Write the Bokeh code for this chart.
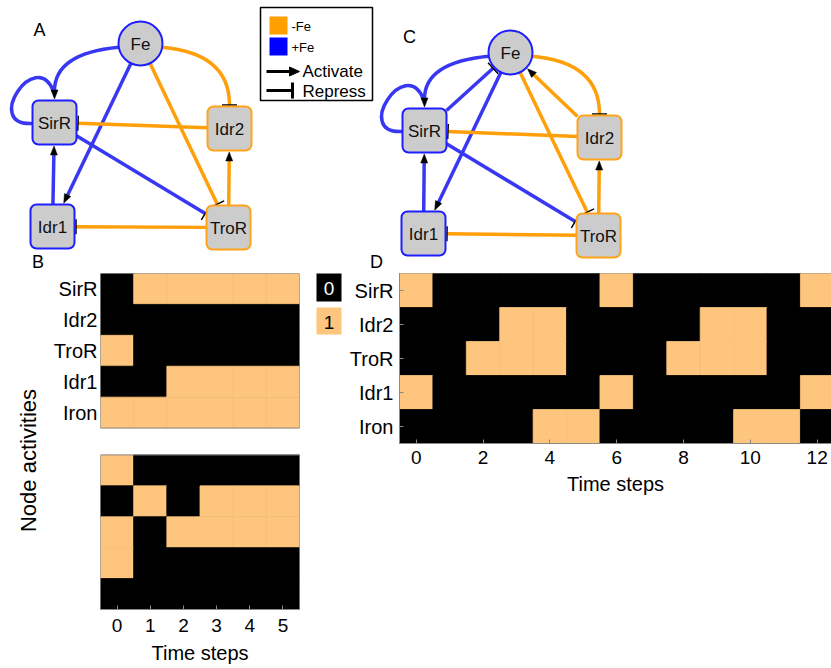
import math
from bokeh.plotting import figure
from bokeh.models import Range1d, FixedTicker, ColumnDataSource
from bokeh.layouts import row, column
from bokeh.transform import linear_cmap
from bokeh.core.properties import value
from bokeh.embed import file_html
from bokeh.resources import INLINE

FONT = "Liberation Sans"

# ---------------- data ----------------
node_names = ["SirR", "Idr2", "TroR", "Idr1", "Iron"]
b_steps = [0, 1, 2, 3, 4, 5]
b_top_rows = [
    [0, 1, 1, 1, 1, 1],
    [0, 0, 0, 0, 0, 0],
    [1, 0, 0, 0, 0, 0],
    [0, 0, 1, 1, 1, 1],
    [1, 1, 1, 1, 1, 1],
]
b_bottom_rows = [
    [1, 0, 0, 0, 0, 0],
    [0, 1, 0, 1, 1, 1],
    [1, 0, 1, 1, 1, 1],
    [1, 0, 0, 0, 0, 0],
    [0, 0, 0, 0, 0, 0],
]
d_steps = list(range(13))
d_rows = [
    [1, 0, 0, 0, 0, 0, 1, 0, 0, 0, 0, 0, 1],
    [0, 0, 0, 1, 1, 0, 0, 0, 0, 1, 1, 0, 0],
    [0, 0, 1, 1, 1, 0, 0, 0, 1, 1, 1, 0, 0],
    [1, 0, 0, 0, 0, 0, 1, 0, 0, 0, 0, 0, 1],
    [0, 0, 0, 0, 1, 1, 0, 0, 0, 0, 1, 1, 0],
]
b_tick_values = [0, 1, 2, 3, 4, 5]
d_tick_values = [0, 2, 4, 6, 8, 10, 12]
state_labels = ["0", "1"]
condition_labels = ["-Fe", "+Fe"]
mode_labels = ["Activate", "Repress"]
panel_labels = ["A", "B", "C", "D"]
y_title = "Node activities"
x_title = "Time steps"
network_nodes = ["Fe", "SirR", "Idr2", "Idr1", "TroR"]
node_condition = {"Fe": "+Fe", "SirR": "+Fe", "Idr1": "+Fe", "Idr2": "-Fe", "TroR": "-Fe"}
# (source, target, mode, condition, shape)
edges_A = [
    ("Fe", "SirR", "act", "+Fe", "curve"),
    ("SirR", "SirR", "act", "+Fe", "loop"),
    ("Fe", "Idr1", "act", "+Fe", "line"),
    ("SirR", "TroR", "rep", "+Fe", "line"),
    ("Idr1", "SirR", "act", "+Fe", "line"),
    ("Fe", "Idr2", "rep", "-Fe", "curve"),
    ("Fe", "TroR", "rep", "-Fe", "line"),
    ("Idr2", "SirR", "rep", "-Fe", "line"),
    ("TroR", "Idr2", "act", "-Fe", "line"),
    ("TroR", "Idr1", "rep", "-Fe", "line"),
]
edges_C = edges_A + [
    ("SirR", "Fe", "rep", "+Fe", "line"),
    ("Idr2", "Fe", "act", "-Fe", "line"),
]

# ---------------- styles / layout ----------------
EDGE_COL = {"-Fe": "#ff9f0a", "+Fe": "#3838f2"}
NODE_BORDER = {"-Fe": "#ffa31a", "+Fe": "#1e1eff"}
SWATCH = {"-Fe": "#ffa000", "+Fe": "#0000ff"}
CELL_COLORS = ["#000000", "#fdc57d"]
FRAME_GRAY = "#8a8a8a"

pos_A = {"Fe": (140, 43), "SirR": (54, 122), "Idr2": (229, 128), "Idr1": (52, 226), "TroR": (228, 227)}
pos_C = {"Fe": (510, 52), "SirR": (424, 130), "Idr2": (599, 137), "Idr1": (423, 233), "TroR": (598, 235)}
panel_label_pos = [(39, 29), (37.5, 261), (409, 36), (376, 261)]
R_FE, HW, HH = 22, 22, 22
GAP, AL, AW, BL = 1.5, 9, 7, 15
EW = 3.5


def unit(dx, dy):
    L = math.hypot(dx, dy)
    return dx / L, dy / L


def boundary(pos, name, tx, ty):
    cx, cy = pos[name]
    ux, uy = unit(tx - cx, ty - cy)
    if name == "Fe":
        s = R_FE
    else:
        sx = HW / abs(ux) if abs(ux) > 1e-9 else 1e9
        sy = HH / abs(uy) if abs(uy) > 1e-9 else 1e9
        s = min(sx, sy)
    return cx + ux * s, cy + uy * s


def draw_network(p, pos, edges):
    seg = dict(x0=[], y0=[], x1=[], y1=[], c=[])
    quad = dict(x0=[], y0=[], x1=[], y1=[], cx=[], cy=[], c=[])
    bez = dict(x0=[], y0=[], x1=[], y1=[], cx0=[], cy0=[], cx1=[], cy1=[], c=[])
    heads = dict(xs=[], ys=[])
    bars = dict(x0=[], y0=[], x1=[], y1=[])

    def end_marks(tx, ty, ux, uy, mode):
        px, py = -uy, ux
        bx, by = tx - ux * GAP, ty - uy * GAP
        if mode == "act":
            basex, basey = bx - ux * AL, by - uy * AL
            heads["xs"].append([bx, basex + px * AW / 2, basex - px * AW / 2])
            heads["ys"].append([by, basey + py * AW / 2, basey - py * AW / 2])
            return basex + ux * 1.0, basey + uy * 1.0
        bars["x0"].append(bx + px * BL / 2)
        bars["y0"].append(by + py * BL / 2)
        bars["x1"].append(bx - px * BL / 2)
        bars["y1"].append(by - py * BL / 2)
        return bx, by

    for s, t, mode, cond, shape in edges:
        col = EDGE_COL[cond]
        if shape == "line":
            tx, ty = pos[t]
            sx, sy = pos[s]
            p0 = boundary(pos, s, tx, ty)
            p1 = boundary(pos, t, sx, sy)
            ux, uy = unit(p1[0] - p0[0], p1[1] - p0[1])
            e = end_marks(p1[0], p1[1], ux, uy, mode)
            seg["x0"].append(p0[0]); seg["y0"].append(p0[1])
            seg["x1"].append(e[0]); seg["y1"].append(e[1]); seg["c"].append(col)
        elif shape == "curve":
            fx, fy = pos[s]
            tx, ty = pos[t]
            side = 1 if tx > fx else -1
            a = math.radians(10)
            P0 = (fx + side * R_FE * math.cos(a), fy + R_FE * math.sin(a))
            P2 = (tx, ty - HH)
            C = (tx, P0[1] + 6)
            e = end_marks(P2[0], P2[1], 0, 1, mode)
            quad["x0"].append(P0[0]); quad["y0"].append(P0[1])
            quad["x1"].append(e[0]); quad["y1"].append(e[1])
            quad["cx"].append(C[0]); quad["cy"].append(C[1]); quad["c"].append(col)
        else:  # self loop, merging into the incoming arrow on top
            cx, cy = pos[s]
            bez["x0"].append(cx - HW); bez["y0"].append(cy + 1)
            bez["cx0"].append(cx - 72); bez["cy0"].append(cy + 4)
            bez["cx1"].append(cx - 19); bez["cy1"].append(cy - 76)
            bez["x1"].append(cx - 1); bez["y1"].append(cy - HH - GAP - AL + 1)
            bez["c"].append(col)

    p.segment("x0", "y0", "x1", "y1", source=ColumnDataSource(seg), line_color="c", line_width=EW)
    p.quadratic("x0", "y0", "x1", "y1", "cx", "cy", source=ColumnDataSource(quad), line_color="c", line_width=EW)
    p.bezier("x0", "y0", "x1", "y1", "cx0", "cy0", "cx1", "cy1", source=ColumnDataSource(bez), line_color="c", line_width=EW)
    p.patches("xs", "ys", source=ColumnDataSource(heads), fill_color="black", line_color="black", line_width=0.5)
    p.segment("x0", "y0", "x1", "y1", source=ColumnDataSource(bars), line_color="black", line_width=1.5)

    rect_nodes = [n for n in network_nodes if n != "Fe"]
    p.rect([pos[n][0] for n in rect_nodes], [pos[n][1] for n in rect_nodes], width=2 * HW, height=2 * HH,
           border_radius=6, fill_color="#cccccc",
           line_color=[NODE_BORDER[node_condition[n]] for n in rect_nodes], line_width=2)
    p.circle([pos["Fe"][0]], [pos["Fe"][1]], radius=R_FE, fill_color="#cccccc",
             line_color=NODE_BORDER[node_condition["Fe"]], line_width=2)
    p.text([pos[n][0] for n in network_nodes], [pos[n][1] + 1 for n in network_nodes], text=network_nodes,
           text_align="center", text_baseline="middle", text_font=value(FONT),
           text_font_size=value("17px"), text_color="#111111")


def blank(p):
    p.xgrid.visible = False
    p.ygrid.visible = False


def style_axis(ax, size, standoff, tick_in):
    ax.major_tick_in = tick_in
    ax.major_tick_out = 0
    ax.minor_tick_line_color = None
    ax.major_label_standoff = standoff
    ax.major_label_text_font = FONT
    ax.major_label_text_font_size = size
    ax.major_label_text_color = "black"
    ax.axis_label_text_font = FONT
    ax.axis_label_text_font_size = "20px"
    ax.axis_label_text_font_style = "normal"
    ax.axis_label_text_color = "black"


# ---------------- top: networks ----------------
W, TOP_H, BOT_H = 831, 272, 396
top = figure(width=W, height=TOP_H, x_range=Range1d(0, W), y_range=Range1d(TOP_H, 0),
             output_backend="svg", toolbar_location=None, min_border=0,
             x_axis_location=None, y_axis_location=None, outline_line_color=None)
blank(top)
draw_network(top, pos_A, edges_A)
draw_network(top, pos_C, edges_C)
top.text([q[0] for q in panel_label_pos], [q[1] for q in panel_label_pos], text=panel_labels,
         text_align="center", text_baseline="middle",
         text_font=value(FONT), text_font_size=value("18px"))

# legend box
top.rect([316], [53.5], width=112, height=93, fill_color="white", line_color="black", line_width=1.5)
top.rect([278, 278], [25, 46], width=18, height=18,
         fill_color=[SWATCH[c] for c in condition_labels], line_color=None)
top.text([291, 291], [26, 47], text=condition_labels, text_baseline="middle",
         text_font=value(FONT), text_font_size=value("13px"))
top.segment([266], [71], [290], [71], line_color="black", line_width=3)
top.patches([[299, 289, 289]], [[71, 66.5, 75.5]], fill_color="black", line_color="black")
top.segment([266], [90], [291], [90], line_color="black", line_width=3)
top.segment([292], [82], [292], [98], line_color="black", line_width=3)
top.text([302, 302], [71, 91], text=mode_labels, text_baseline="middle",
         text_font=value(FONT), text_font_size=value("17px"))

# ---------------- y title strip ----------------
yt = figure(width=48, height=BOT_H, x_range=Range1d(0, 48), y_range=Range1d(BOT_H, 0),
            output_backend="svg", toolbar_location=None, min_border=0,
            x_axis_location=None, y_axis_location=None, outline_line_color=None)
blank(yt)
yt.text([28], [188], text=[y_title], angle=math.pi / 2, text_align="center", text_baseline="middle",
        text_font=value(FONT), text_font_size=value("22px"))

# ---------------- B heatmap ----------------
GAP_ROWS = 0.87
b_x, b_y, b_v = [], [], []
for i, r in enumerate(b_top_rows):
    for t, v in zip(b_steps, r):
        b_x.append(t); b_y.append(i); b_v.append(v)
for i, r in enumerate(b_bottom_rows):
    for t, v in zip(b_steps, r):
        b_x.append(t); b_y.append(5 + GAP_ROWS + i); b_v.append(v)
y_bot = 5 + GAP_ROWS + 4 + 0.5
n_rows = len(node_names)
n_b = len(b_steps)
panel_cy = [(n_rows - 1) / 2, 5 + GAP_ROWS + (n_rows - 1) / 2]

b = figure(width=257, height=BOT_H, x_range=Range1d(-0.5, 5.5), y_range=Range1d(y_bot, -0.5),
           output_backend="svg", toolbar_location=None,
           min_border_left=52, min_border_right=6, min_border_top=1, min_border_bottom=59,
           outline_line_color=None)
blank(b)
cmap = linear_cmap("v", palette=CELL_COLORS, low=0, high=1)
b.rect([(n_b - 1) / 2] * 2, panel_cy, width=n_b, height=n_rows, fill_color=CELL_COLORS[0], line_color=None)
b.rect("x", "y", width=1, height=1, source=ColumnDataSource(dict(x=b_x, y=b_y, v=b_v)),
       fill_color=cmap, line_color=cmap, line_width=0.8)
b.rect([(n_b - 1) / 2] * 2, panel_cy, width=n_b, height=n_rows, fill_color=None,
       line_color=FRAME_GRAY, line_width=1)

b.yaxis.ticker = FixedTicker(ticks=list(range(n_rows)))
b.yaxis.major_label_overrides = {i: n for i, n in enumerate(node_names)}
b.yaxis.axis_line_color = None
b.yaxis.major_tick_line_color = None
style_axis(b.yaxis[0], "20px", 3, 0)

b.xaxis.ticker = FixedTicker(ticks=b_tick_values)
b.xaxis.axis_line_color = FRAME_GRAY
b.xaxis.major_tick_line_color = FRAME_GRAY
style_axis(b.xaxis[0], "19px", 9, 4)
b.xaxis.axis_label = x_title
b.xaxis.axis_label_standoff = 7

# ---------------- 0/1 colour key ----------------
lg = figure(width=38, height=BOT_H, x_range=Range1d(0, 38), y_range=Range1d(BOT_H, 0),
            output_backend="svg", toolbar_location=None, min_border=0,
            x_axis_location=None, y_axis_location=None, outline_line_color=None)
blank(lg)
lg.rect([23.5, 23.5], [15, 48.5], width=25, height=[28, 27], fill_color=CELL_COLORS, line_color=None)
lg.text([23.5, 23.5], [16, 49.5], text=state_labels, text_align="center", text_baseline="middle",
        text_color=["white", "black"], text_font=value(FONT), text_font_size=value("19px"))

# ---------------- D heatmap ----------------
d_x, d_y, d_v = [], [], []
for i, r in enumerate(d_rows):
    for t, v in zip(d_steps, r):
        d_x.append(t); d_y.append(i); d_v.append(v)

d = figure(width=488, height=BOT_H, x_range=Range1d(-0.5, 12.43), y_range=Range1d(4.5, -0.5),
           output_backend="svg", toolbar_location=None,
           min_border_left=56, min_border_right=0, min_border_top=1, min_border_bottom=225,
           outline_line_color=FRAME_GRAY, background_fill_color=CELL_COLORS[0])
blank(d)
d.rect("x", "y", width=1, height=1, source=ColumnDataSource(dict(x=d_x, y=d_y, v=d_v)),
       fill_color=cmap, line_color=cmap, line_width=0.8)

d.yaxis.ticker = FixedTicker(ticks=list(range(n_rows)))
d.yaxis.major_label_overrides = {i: n for i, n in enumerate(node_names)}
d.yaxis.axis_line_color = FRAME_GRAY
d.yaxis.major_tick_line_color = FRAME_GRAY
style_axis(d.yaxis[0], "20px", 6, 4)

d.xaxis.ticker = FixedTicker(ticks=d_tick_values)
d.xaxis.axis_line_color = FRAME_GRAY
d.xaxis.major_tick_line_color = FRAME_GRAY
style_axis(d.xaxis[0], "19px", 7, 4)
d.xaxis.axis_label = x_title
d.xaxis.axis_label_standoff = 6

layout = column(top, row(column(yt), column(b), column(lg), column(d)))
open("out.html", "w").write(file_html(layout, INLINE))
